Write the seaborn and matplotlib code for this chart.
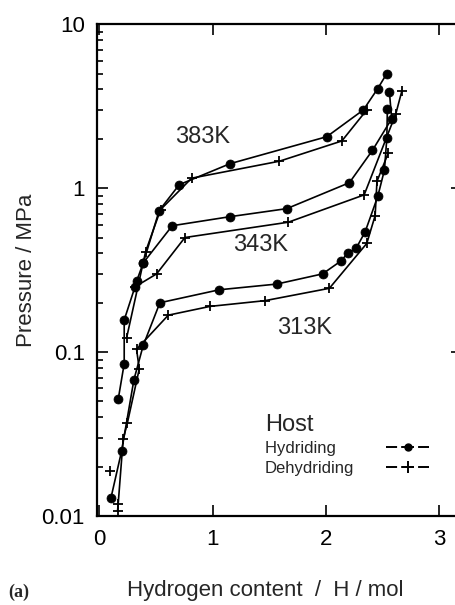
import matplotlib
matplotlib.use('Agg')
import matplotlib.pyplot as plt
import matplotlib.ticker as ticker
from matplotlib.lines import Line2D
import seaborn as sns

# 383 K
h383_x = [0.166, 0.219, 0.219, 0.314, 0.328, 0.387, 0.528, 0.705, 1.153, 2.007, 2.33, 2.457, 2.537]
h383_p = [0.0515, 0.085, 0.157, 0.25, 0.27, 0.35, 0.73, 1.05, 1.41, 2.06, 3.0, 4.05, 5.0]
d383_x = [0.24, 0.408, 0.54, 0.814, 1.589, 2.14, 2.36]
d383_p = [0.122, 0.41, 0.74, 1.15, 1.46, 1.94, 3.0]

# 343 K
h343_x = [0.387, 0.643, 1.153, 1.654, 2.207, 2.41, 2.58, 2.56]
h343_p = [0.35, 0.59, 0.67, 0.75, 1.08, 1.70, 2.65, 3.86]
d343_x = [0.314, 0.505, 0.755, 1.668, 2.337, 2.617, 2.67]
d343_p = [0.25, 0.30, 0.50, 0.62, 0.91, 2.85, 3.92]

# 313 K
h313_x = [0.102, 0.196, 0.305, 0.387, 0.534, 1.058, 1.565, 1.97, 2.133, 2.19, 2.266, 2.345,
          2.457, 2.516, 2.537, 2.542]
h313_p = [0.0129, 0.0249, 0.068, 0.11, 0.20, 0.24, 0.26, 0.30, 0.36, 0.40, 0.43, 0.54,
          0.89, 1.29, 2.01, 3.06]
d313_x = [0.16, 0.166, 0.21, 0.246, 0.352, 0.328, 0.608, 0.976, 1.462, 2.03, 2.36, 2.434, 2.45, 2.55]
d313_p = [0.0107, 0.0119, 0.0295, 0.0367, 0.079, 0.104, 0.168, 0.19, 0.206, 0.245, 0.46, 0.68, 1.10, 1.64]

# loose point off the curves
stray_x = [0.093]
stray_p = [0.0188]

temp_labels = ['383K', '343K', '313K']
temp_label_x = [0.914, 1.426, 1.815]
temp_label_p = [2.05, 0.449, 0.14]

x_ticks = [0, 1, 2, 3]
y_ticks = [0.01, 0.1, 1, 10]

sns.set_style('ticks')
plt.rcParams['font.family'] = ['Liberation Sans', 'DejaVu Sans']

fig = plt.figure(figsize=(4.56, 6.05), dpi=100)
ax = fig.add_axes([0.213, 0.147, 0.800, 0.813])


def draw_curve(ax, x, p, marker):
    sns.lineplot(x=x, y=p, ax=ax, sort=False, estimator=None, color='black', lw=1.2)
    if marker == 'o':
        sns.scatterplot(x=x, y=p, ax=ax, marker='o', s=42, color='black',
                        edgecolor='black', linewidth=0.5, zorder=3)
    else:
        sns.scatterplot(x=x, y=p, ax=ax, marker='+', s=55, color='black',
                        linewidth=1.3, zorder=3)


for xs, ps in [(h383_x, h383_p), (h343_x, h343_p), (h313_x, h313_p)]:
    draw_curve(ax, xs, ps, 'o')
for xs, ps in [(d383_x, d383_p), (d343_x, d343_p), (d313_x, d313_p)]:
    draw_curve(ax, xs, ps, '+')
sns.scatterplot(x=stray_x, y=stray_p, ax=ax, marker='+', s=55, color='black', linewidth=1.3)

for lab, tx, tp in zip(temp_labels, temp_label_x, temp_label_p):
    ax.text(tx, tp, lab, fontsize=17, ha='center', va='center')

ax.set_yscale('log')
ax.set_ylim(0.01, 10)
ax.set_xlim(-0.02, 3.2)
ax.set_xticks(x_ticks)
ax.set_yticks(y_ticks)
ax.yaxis.set_major_formatter(ticker.FuncFormatter(lambda v, _: f'{v:g}'))
ax.yaxis.set_minor_formatter(ticker.NullFormatter())

ax.tick_params(which='both', direction='in', top=True, right=True, width=1.2, colors='black')
ax.tick_params(which='major', length=8, labelsize=16, pad=9)
ax.tick_params(which='minor', length=4.5, right=False, top=False)
for sp in ax.spines.values():
    sp.set_linewidth(1.6)
    sp.set_color('black')

ax.set_xlabel('Hydrogen content  /  H / mol', fontsize=16)
ax.xaxis.set_label_coords(0.46, -0.13)
ax.set_ylabel('Pressure / MPa', fontsize=16)
ax.yaxis.set_label_coords(-0.165, 0.5)

# symmetric "- o -" dash pattern for the legend keys
key_dash = (0, (5.7, 2.1, 6.6, 2.1, 5.7, 10))
handles = [
    Line2D([], [], color='black', marker='o', markersize=5, linestyle=key_dash, lw=1.4),
    Line2D([], [], color='black', marker='+', markersize=8, mew=1.4, linestyle=key_dash, lw=1.4),
]
# trailing spaces keep both label texts left-aligned when markers sit on the right
leg = ax.legend(handles, ['Hydriding    ', 'Dehydriding'], title='Host', markerfirst=False,
                frameon=False, loc='upper left', bbox_to_anchor=(0.46, 0.207),
                borderpad=0, borderaxespad=0, fontsize=12, title_fontsize=17,
                handlelength=2.6, handletextpad=1.9, labelspacing=0.28, alignment='left')

fig.text(0.0175, 0.0215, '(a)', fontsize=13, fontweight='bold', family='Liberation Serif',
         ha='left', va='center')

fig.savefig('out.png', dpi=100)
